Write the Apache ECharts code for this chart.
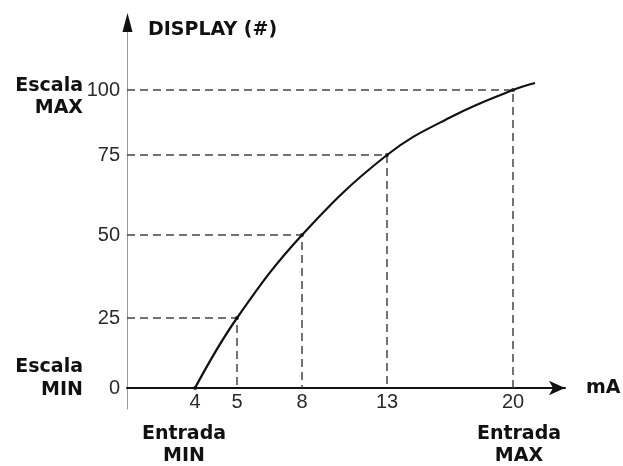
<!DOCTYPE html>
<html>
<head>
<meta charset="utf-8">
<script src="https://cdn.jsdelivr.net/npm/echarts@6/dist/echarts.min.js"></script>
<style>
html,body{margin:0;padding:0;background:#fff;}
#c{width:623px;height:466px;}
</style>
</head>
<body>
<div id="c"></div>
<script>
// Tick labels (the drawing is schematic: axes are not to scale)
const xTickLabels = ['4', '5', '8', '13', '20'];          // mA
const yTickLabels = ['0', '25', '50', '75', '100'];       // display
// Positions of those ticks along each schematic axis (drawing units)
const xTickPos = [6.8, 11.0, 17.5, 26.0, 38.6];
const yTickPos = [0, 7.0, 15.3, 23.3, 29.8];
// Curve (drawing units)
const curveX = [6.8, 11.0, 17.5, 26.0, 32.6, 38.6, 40.8];
const curveY = [0, 7.0, 15.3, 23.3, 27.2, 29.8, 30.5];

const xMin = 0, xMax = 43.8, yMin = -2.1, yMax = 35.8;

const chart = echarts.init(document.getElementById('c'), null, {renderer: 'canvas'});

const guideSeries = [];
for (let i = 1; i < xTickPos.length; i++) {
  guideSeries.push({
    type: 'line',
    data: [[xMin, yTickPos[i]], [xTickPos[i], yTickPos[i]], [xTickPos[i], 0]],
    symbol: 'none',
    silent: true,
    lineStyle: {color: '#444', width: 1.5, type: [8, 5]},
    z: 1
  });
}

const boldFont = 'bold 19px "DejaVu Sans", sans-serif';

chart.setOption({
  animation: false,
  backgroundColor: '#fff',
  grid: {left: 127, right: 58, top: 30, bottom: 57, containLabel: false, outerBoundsMode: 'none'},
  xAxis: {
    type: 'value', min: xMin, max: xMax,
    axisLine: {onZero: true, lineStyle: {color: '#111', width: 2}, symbol: ['none', 'arrow'], symbolSize: [11, 16]},
    axisTick: {show: false},
    splitLine: {show: false},
    axisLabel: {
      customValues: xTickPos,
      formatter: v => xTickLabels[xTickPos.indexOf(v)] ?? '',
      color: '#2a2a2a', fontSize: 20, fontFamily: '"Liberation Sans", Arial, sans-serif', margin: -17
    },
    name: 'mA', nameLocation: 'end', nameGap: 21,
    nameTextStyle: {color: '#111', fontSize: 19, fontWeight: 'bold', fontFamily: '"DejaVu Sans", sans-serif', verticalAlign: 'middle'}
  },
  yAxis: {
    type: 'value', min: yMin, max: yMax,
    axisLine: {show: true, onZero: true, lineStyle: {color: '#999', width: 1}},
    axisTick: {show: false},
    splitLine: {show: false},
    axisLabel: {
      customValues: yTickPos,
      formatter: v => yTickLabels[yTickPos.indexOf(v)] ?? '',
      color: '#2a2a2a', fontSize: 20, fontFamily: '"Liberation Sans", Arial, sans-serif', margin: 7
    }
  },
  series: guideSeries.concat([
    {
      type: 'line',
      data: curveX.map((x, i) => [x, curveY[i]]),
      smooth: 0.4,
      symbol: 'none',
      lineStyle: {color: '#111', width: 2.2},
      z: 3
    },
    {
      type: 'scatter',
      data: xTickPos.map((x, i) => [x, yTickPos[i]]),
      symbol: 'circle', symbolSize: 4,
      itemStyle: {color: '#111'},
      z: 4
    }
  ]),
  graphic: [
    {type: 'polygon', shape: {points: [[122.5, 32], [132.5, 32], [127.5, 13]]}, style: {fill: '#111'}, z: 10},
    {type: 'text', left: 148, top: 21, style: {text: 'DISPLAY (#)', font: boldFont, fill: '#111'}},
    {type: 'text', x: 83, y: 97, style: {text: 'Escala\nMAX', font: boldFont, fill: '#111', align: 'right', verticalAlign: 'middle', lineHeight: 22}},
    {type: 'text', x: 83, y: 379, style: {text: 'Escala\nMIN', font: boldFont, fill: '#111', align: 'right', verticalAlign: 'middle', lineHeight: 23}},
    {type: 'text', x: 184, y: 445, style: {text: 'Entrada\nMIN', font: boldFont, fill: '#111', align: 'center', verticalAlign: 'middle', lineHeight: 22}},
    {type: 'text', x: 519, y: 445, style: {text: 'Entrada\nMAX', font: boldFont, fill: '#111', align: 'center', verticalAlign: 'middle', lineHeight: 22}}
  ]
});
</script>
</body>
</html>
